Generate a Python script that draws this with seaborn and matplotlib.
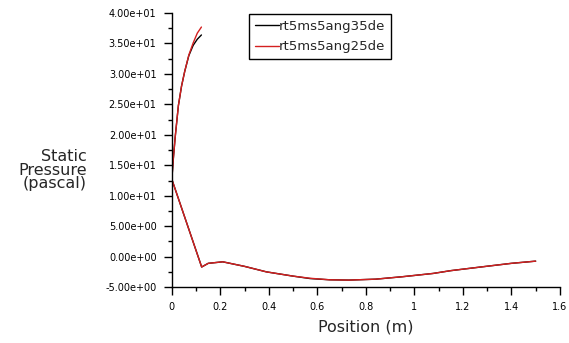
import matplotlib
matplotlib.use("Agg")
import matplotlib.pyplot as plt
import seaborn as sns
import numpy as np
import pandas as pd
from matplotlib.ticker import AutoMinorLocator, FormatStrFormatter

# ---- data ----
upper_x = [0.122, 0.105, 0.088, 0.070, 0.053, 0.040, 0.027, 0.014, 0.006, 0.0]
upper_black = [36.4, 35.7, 34.7, 33.0, 30.4, 28.0, 24.8, 19.7, 16.0, 12.7]
upper_red = [37.7, 36.7, 35.1, 33.1, 30.4, 28.0, 24.8, 19.7, 16.0, 12.7]

lower_x = [0.0, 0.123, 0.15, 0.21, 0.30, 0.39, 0.50, 0.57, 0.65, 0.73,
           0.84, 0.95, 1.077, 1.15, 1.28, 1.40, 1.50]
lower_black = [12.7, -1.7, -1.1, -0.85, -1.6, -2.5, -3.2, -3.6, -3.8, -3.85,
               -3.7, -3.3, -2.76, -2.3, -1.67, -1.1, -0.74]
lower_red = [12.7, -1.7, -1.1, -0.85, -1.6, -2.5, -3.2, -3.55, -3.8, -3.85,
             -3.7, -3.3, -2.76, -2.3, -1.67, -1.1, -0.74]

series_names = ["rt5ms5ang35de", "rt5ms5ang25de"]
colors = ["black", "#d42020"]

sns.set_style("ticks")
plt.rcParams['font.family'] = ['DejaVu Sans']

fig = plt.figure(figsize=(5.69, 3.43), dpi=100)
ax = fig.add_axes([0.302, 0.163, 0.682, 0.799])

for name, col, ub, lb in zip(series_names, colors,
                             [upper_black, upper_red], [lower_black, lower_red]):
    df = pd.DataFrame({"x": upper_x + lower_x, "y": ub + lb})
    sns.lineplot(data=df, x="x", y="y", sort=False, estimator=None,
                 color=col, lw=1.0, ax=ax, label=name)

ax.set_xlim(0, 1.6)
ax.set_ylim(-5, 40)
ax.set_xticks(np.arange(0, 1.61, 0.2))
ax.set_xticklabels(["0", "0.2", "0.4", "0.6", "0.8", "1", "1.2", "1.4", "1.6"])
ax.set_yticks(np.arange(-5, 40.1, 5))
ax.yaxis.set_major_formatter(FormatStrFormatter("%.2e"))
ax.xaxis.set_minor_locator(AutoMinorLocator(2))
ax.yaxis.set_minor_locator(AutoMinorLocator(2))
ax.tick_params(which="major", direction="out", length=6, width=1, labelsize=7,
               color="black", labelcolor="black", pad=5)
ax.tick_params(which="minor", direction="out", length=3, width=1, color="black")
for s in ["top", "right"]:
    ax.spines[s].set_visible(False)
for s in ["left", "bottom"]:
    ax.spines[s].set_color("black")
    ax.spines[s].set_linewidth(1)

ax.set_xlabel("Position (m)", fontsize=11.5, labelpad=5)
ax.set_ylabel("")
fig.text(87 / 569, 1 - 170 / 343, "Static\nPressure\n(pascal)", ha="right",
         va="center", multialignment="right", fontsize=11.5, linespacing=0.85)

leg = ax.legend(loc="upper left", bbox_to_anchor=(0.2, 0.996), fontsize=9.5,
                frameon=True, fancybox=False, handlelength=1.8, handletextpad=0.0,
                borderpad=0.45, labelspacing=0.55, borderaxespad=0)
leg.get_frame().set_edgecolor("black")
leg.get_frame().set_linewidth(1)
leg.get_frame().set_alpha(1)

fig.savefig("out.png", dpi=100)
